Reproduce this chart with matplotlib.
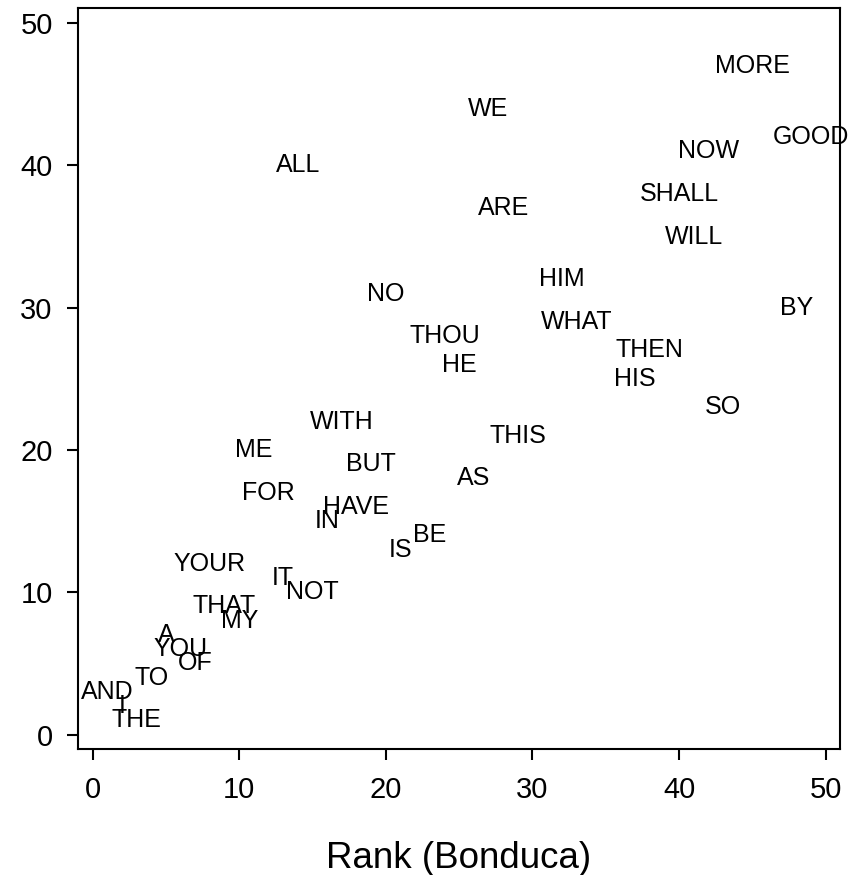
import matplotlib
matplotlib.use("Agg")
import matplotlib.pyplot as plt

plt.rcParams.update({
    "font.family": ["Liberation Sans", "DejaVu Sans"],
    "axes.linewidth": 1.5,
    "xtick.major.width": 1.5,
    "ytick.major.width": 1.5,
    "xtick.major.size": 8,
    "ytick.major.size": 8,
    "xtick.labelsize": 21,
    "ytick.labelsize": 21,
})

words = [
    "MORE", "WE", "GOOD", "NOW", "ALL", "SHALL", "ARE", "WILL", "HIM", "NO",
    "BY", "WHAT", "THOU", "THEN", "HE", "HIS", "SO", "WITH", "THIS", "ME",
    "BUT", "AS", "FOR", "HAVE", "IN", "BE", "IS", "YOUR", "IT", "NOT",
    "THAT", "MY", "A", "YOU", "OF", "TO", "AND", "I", "THE",
]
rank_bonduca = [
    45, 27, 49, 42, 14, 40, 28, 41, 32, 20,
    48, 33, 24, 38, 25, 37, 43, 17, 29, 11,
    19, 26, 12, 18, 16, 23, 21, 8, 13, 15,
    9, 10, 5, 6, 7, 4, 1, 2, 3,
]
rank_other = [
    47, 44, 42, 41, 40, 38, 37, 35, 32, 31,
    30, 29, 28, 27, 26, 25, 23, 22, 21, 20,
    19, 18, 17, 16, 15, 14, 13, 12, 11, 10,
    9, 8, 7, 6, 5, 4, 3, 2, 1,
]
ticks = [0, 10, 20, 30, 40, 50]

fig = plt.figure(figsize=(8.61, 8.75), dpi=100)
ax = fig.add_axes([0.0902, 0.1435, 0.9756 - 0.0902, 0.9905 - 0.1435])

# every word sits at its pair of ranks, the text itself is the marker
for w, x, y in zip(words, rank_bonduca, rank_other):
    ax.text(x, y, w, ha="center", va="center", fontsize=18, color="black",
            clip_on=False)

ax.set_xlim(-1.02, 50.98)
ax.set_ylim(-1.05, 51.05)
ax.set_xticks(ticks)
ax.set_yticks(ticks)
ax.tick_params(axis="x", pad=11)
ax.tick_params(axis="y", pad=10)
ax.set_xlabel("Rank (Bonduca)", fontsize=26.5, labelpad=27)

fig.savefig("out.png", dpi=100)
